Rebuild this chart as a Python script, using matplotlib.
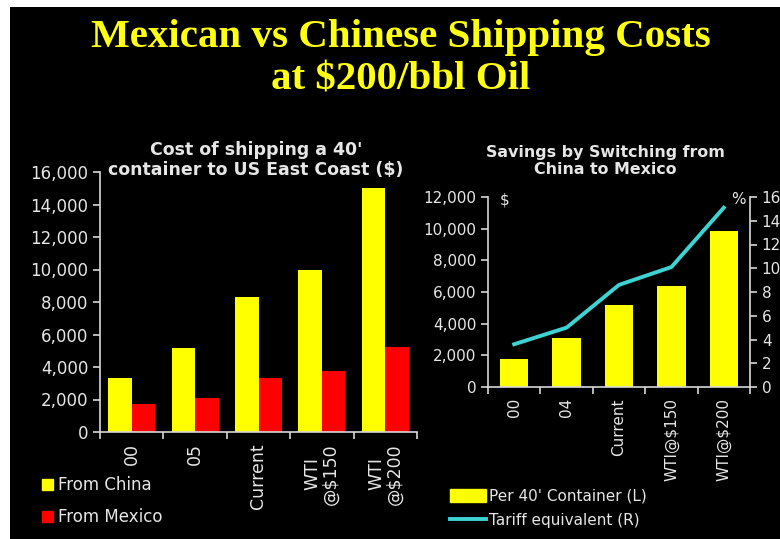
import matplotlib
matplotlib.use("Agg")
import matplotlib.pyplot as plt
from matplotlib.patches import Rectangle, Patch
from matplotlib.lines import Line2D
import numpy as np

# Left panel: cost of shipping a 40' container to the US East Coast ($)
cost_labels = ["00", "05", "Current", "WTI\n@$150", "WTI\n@$200"]
from_china = [3300, 5200, 8300, 10000, 15000]
from_mexico = [1700, 2100, 3300, 3750, 5250]

# Right panel: savings by switching from China to Mexico
savings_labels = ["00", "04", "Current", "WTI@$150", "WTI@$200"]
per_container = [1800, 3100, 5150, 6350, 9850]
tariff_equiv = [3.6, 5.0, 8.6, 10.1, 15.1]

YELLOW = "#FFFF00"
RED = "#FF0000"
CYAN = "#3ED3D3"
FG = "#E6E6E6"
SPINE = "#D8D8D8"

W, H = 780, 539
fig = plt.figure(figsize=(W / 100, H / 100), dpi=100, facecolor="white")

# black slide background (thin white margin top and left)
fig.patches.append(Rectangle((10 / W, 0), 1 - 10 / W, 1 - 7 / H,
                             transform=fig.transFigure, facecolor="black",
                             edgecolor="none", zorder=-10))

fig.text(401 / W, 1 - 38 / H, "Mexican vs Chinese Shipping Costs",
         ha="center", va="center", color="#FFFF10", fontsize=29.5,
         family="Liberation Serif", weight="bold")
fig.text(401 / W, 1 - 80 / H, "at $200/bbl Oil",
         ha="center", va="center", color="#FFFF10", fontsize=29.5,
         family="Liberation Serif", weight="bold")


def style_axes(ax, n):
    ax.set_facecolor("black")
    for side in ["top", "right"]:
        ax.spines[side].set_visible(False)
    for side in ["left", "bottom"]:
        ax.spines[side].set_color(SPINE)
        ax.spines[side].set_linewidth(1.2)
    ax.set_xlim(-0.5, n - 0.5)
    # tick marks between categories, labels at the centres
    ax.set_xticks(np.arange(n + 1) - 0.5)
    ax.set_xticklabels([])
    ax.tick_params(axis="x", which="major", direction="out", length=5,
                   color=SPINE, width=1.2)
    ax.tick_params(axis="x", which="minor", length=0, colors=FG)
    ax.tick_params(axis="y", direction="out", length=5, color=SPINE,
                   width=1.2, colors=FG)


def thousands(v, _):
    return f"{int(v):,}"


# ---- left chart ----
n = len(cost_labels)
x = np.arange(n)
ax1 = fig.add_axes([100 / W, 1 - 432 / H, 317 / W, 260 / H])
style_axes(ax1, n)
bw = 0.37
ax1.bar(x - bw / 2, from_china, bw, color=YELLOW, label="From China")
ax1.bar(x + bw / 2, from_mexico, bw, color=RED, label="From Mexico")
ax1.set_ylim(0, 16000)
ax1.set_yticks(np.arange(0, 16001, 2000))
ax1.yaxis.set_major_formatter(plt.FuncFormatter(thousands))
ax1.set_xticks(x, minor=True)
ax1.set_xticklabels(cost_labels, minor=True, rotation=90, fontsize=12.5,
                    color=FG, va="top", ha="center", linespacing=1.0)
for lab in ax1.get_yticklabels():
    lab.set_fontsize(12)
    lab.set_color(FG)
ax1.tick_params(axis="x", which="minor", pad=8)

fig.text(256 / W, 1 - 160 / H, "Cost of shipping a 40'\ncontainer to US East Coast ($)",
         ha="center", va="center", color=FG, fontsize=12.5, weight="bold",
         linespacing=1.2)

leg1 = fig.legend(handles=[Patch(color=YELLOW, label="From China"),
                           Patch(color=RED, label="From Mexico")],
                  loc="upper left", bbox_to_anchor=(27 / W, 1 - 461 / H),
                  frameon=False, fontsize=12, labelcolor=FG,
                  handlelength=0.65, handleheight=0.65, handletextpad=0.3,
                  labelspacing=0.85)

# ---- right chart ----
m = len(savings_labels)
xs = np.arange(m)
ax2 = fig.add_axes([488 / W, 1 - 387 / H, 262 / W, 190 / H])
style_axes(ax2, m)
ax2.bar(xs, per_container, 0.54, color=YELLOW)
ax2.set_ylim(0, 12000)
ax2.set_yticks(np.arange(0, 12001, 2000))
ax2.yaxis.set_major_formatter(plt.FuncFormatter(thousands))
ax2.set_xticks(xs, minor=True)
ax2.set_xticklabels(savings_labels, minor=True, rotation=90, fontsize=11,
                    color=FG, va="top", ha="center")
for lab in ax2.get_yticklabels():
    lab.set_fontsize(11)
    lab.set_color(FG)
ax2.tick_params(axis="x", which="minor", pad=8)

ax3 = ax2.twinx()
ax3.plot(xs, tariff_equiv, color=CYAN, linewidth=2.8)
ax3.set_ylim(0, 16)
ax3.set_yticks(np.arange(0, 17, 2))
for side in ["top", "left", "bottom"]:
    ax3.spines[side].set_visible(False)
ax3.spines["right"].set_color(SPINE)
ax3.spines["right"].set_linewidth(1.2)
ax3.tick_params(axis="y", direction="out", length=5, color=SPINE, width=1.2,
                colors=FG, labelsize=11)

ax2.text(0.065, 0.985, "$", transform=ax2.transAxes, ha="center", va="center",
         color=FG, fontsize=11)
ax2.text(0.955, 0.985, "%", transform=ax2.transAxes, ha="center", va="center",
         color=FG, fontsize=11)

fig.text(605 / W, 1 - 161 / H, "Savings by Switching from\nChina to Mexico",
         ha="center", va="center", color=FG, fontsize=11.4, weight="bold",
         linespacing=1.15)

leg2 = fig.legend(handles=[Patch(color=YELLOW, label="Per 40' Container (L)"),
                           Line2D([], [], color=CYAN, linewidth=2.8,
                                  label="Tariff equivalent (R)")],
                  loc="upper left", bbox_to_anchor=(436 / W, 1 - 475 / H),
                  frameon=False, fontsize=11, labelcolor=FG,
                  handlelength=2.4, handleheight=0.85, handletextpad=0.2,
                  labelspacing=0.6)

fig.savefig("out.png", dpi=100, facecolor=fig.get_facecolor())
